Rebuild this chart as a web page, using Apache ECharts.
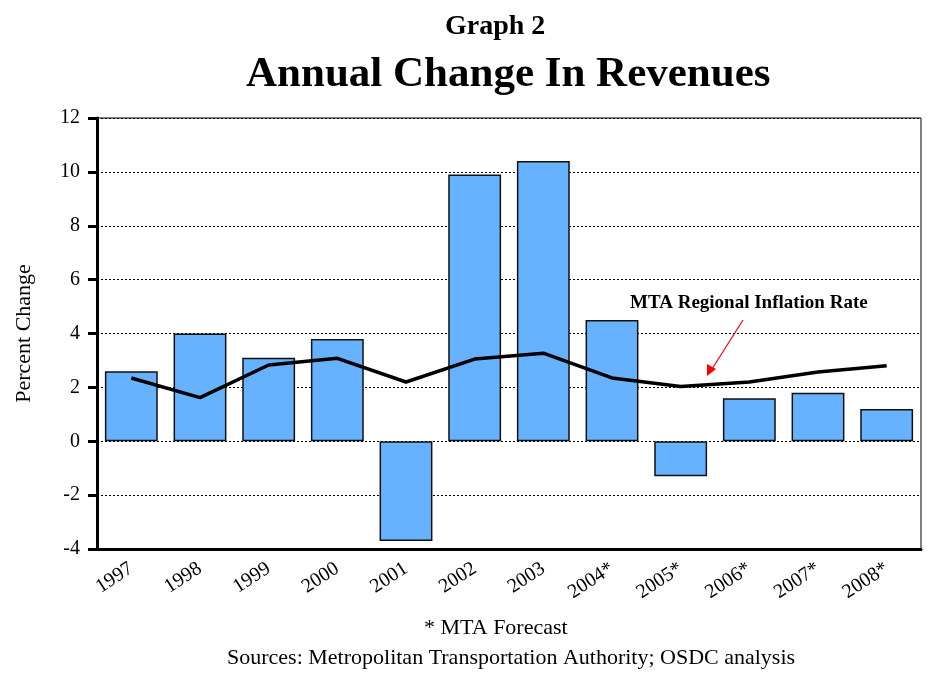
<!DOCTYPE html>
<html>
<head>
<meta charset="utf-8">
<script src="https://cdn.jsdelivr.net/npm/echarts@6/dist/echarts.min.js"></script>
<style>
  html, body { margin: 0; padding: 0; background: #fff; }
  #main { width: 938px; height: 675px; }
</style>
</head>
<body>
<div id="main"></div>
<script>
const years = ['1997', '1998', '1999', '2000', '2001', '2002', '2003', '2004*', '2005*', '2006*', '2007*', '2008*'];
// revenue change, percent
const revenueChange = [2.6, 4.0, 3.1, 3.8, -3.7, 9.9, 10.4, 4.5, -1.3, 1.6, 1.8, 1.2];
// MTA regional inflation
const inflationRate = [2.35, 1.62, 2.83, 3.08, 2.2, 3.05, 3.27, 2.35, 2.03, 2.2, 2.57, 2.8];
const yTicks = [-4, -2, 0, 2, 4, 6, 8, 10, 12];

const font = '"Liberation Serif", "Times New Roman", serif';
const chart = echarts.init(document.getElementById('main'));

const option = {
  animation: false,
  backgroundColor: '#fff',
  textStyle: { fontFamily: font },
  title: [
    {
      text: 'Graph 2',
      left: 440,
      top: 8,
      textStyle: { fontFamily: font, fontSize: 28, fontWeight: 'bold', color: '#000' }
    },
    {
      text: 'Annual Change In Revenues',
      left: 241,
      top: 48,
      textStyle: { fontFamily: font, fontSize: 43, fontWeight: 'bold', color: '#000' }
    }
  ],
  grid: {
    left: 97,
    right: 17,
    top: 118,
    bottom: 126,
    show: true,
    borderColor: '#000',
    borderWidth: 1
  },
  xAxis: {
    type: 'category',
    data: years,
    position: 'bottom',
    axisLine: { onZero: false, lineStyle: { color: '#000', width: 3 } },
    axisTick: { show: false },
    axisLabel: {
      rotate: 33,
      color: '#000',
      fontFamily: font,
      fontSize: 20,
      margin: 18
    }
  },
  yAxis: {
    type: 'value',
    min: yTicks[0],
    max: yTicks[yTicks.length - 1],
    interval: 2,
    name: 'Percent Change',
    nameLocation: 'middle',
    nameGap: 62,
    nameTextStyle: { fontFamily: font, fontSize: 22, color: '#000' },
    axisLine: { show: true, lineStyle: { color: '#000', width: 3 } },
    axisTick: { show: true, inside: false, length: 9, lineStyle: { color: '#000', width: 3 } },
    axisLabel: { color: '#000', fontFamily: font, fontSize: 20, margin: 17 },
    splitLine: { show: true, lineStyle: { color: '#000', type: [2, 2], width: 1 } }
  },
  series: [
    {
      name: 'Revenue',
      type: 'bar',
      data: revenueChange,
      barWidth: '77%',
      itemStyle: { color: '#66B2FF', borderColor: '#111', borderWidth: 1.5 },
      z: 2
    },
    {
      name: 'MTA Regional Inflation Rate',
      type: 'line',
      data: inflationRate,
      symbol: 'none',
      lineStyle: { color: '#000', width: 3.5 },
      z: 3
    }
  ],
  graphic: [
    {
      type: 'text',
      left: 630,
      top: 294,
      style: { text: 'MTA Regional Inflation Rate', font: 'bold 19px ' + font, fill: '#000' }
    },
    {
      type: 'line',
      shape: { x1: 743, y1: 320, x2: 712, y2: 369 },
      style: { stroke: '#ff0000', lineWidth: 1.2 }
    },
    {
      type: 'polygon',
      shape: { points: [[707, 376], [707, 364], [716, 369]] },
      style: { fill: '#ff0000' }
    },
    {
      type: 'text',
      left: 424,
      top: 617,
      style: { text: '* MTA Forecast', font: '22px ' + font, fill: '#000' }
    },
    {
      type: 'text',
      left: 227,
      top: 647,
      style: { text: 'Sources: Metropolitan Transportation Authority; OSDC analysis', font: '22px ' + font, fill: '#000' }
    }
  ]
};

chart.setOption(option);
</script>
</body>
</html>
